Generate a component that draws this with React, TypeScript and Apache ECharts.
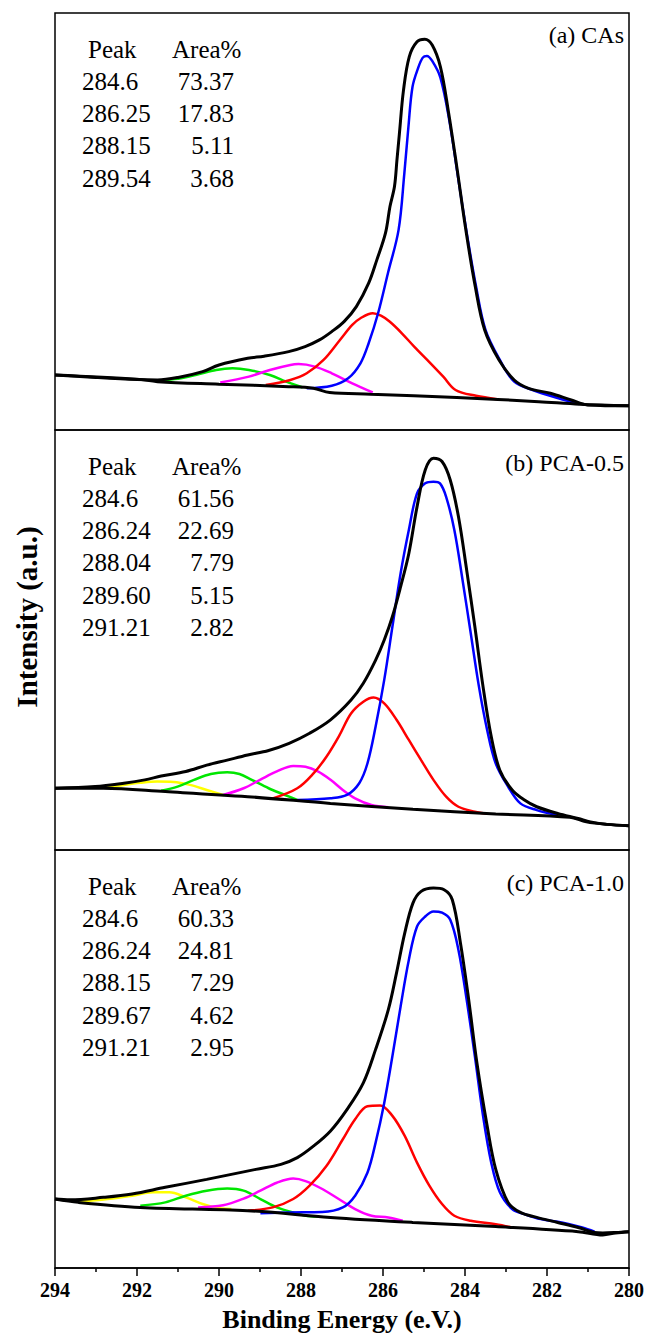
import React, { useEffect, useRef } from "react";
import * as echarts from "echarts";

// ---------- Data (Binding energy eV, intensity a.u. 0-100 per panel) ----------
const xMin = 280;
const xMax = 294;
const xInterval = 2;

// Panel (a) CAs
const aEnvelope = [[294.0,13.2],[293.0,12.6],[292.0,12.1],[291.5,12.0],[291.0,12.6],[290.4,14.0],[290.0,15.6],[289.3,17.2],[288.9,17.7],[288.3,18.8],[287.9,20.0],[287.55,21.6],[287.25,23.6],[286.95,26.0],[286.65,29.6],[286.35,35.2],[286.15,40.8],[285.94,47.2],[285.83,53.6],[285.72,58.4],[285.66,64.7],[285.6,71.1],[285.5,81.5],[285.36,89.5],[285.17,93.1],[284.98,93.7],[284.8,92.3],[284.6,87.1],[284.41,76.7],[284.2,63.1],[283.98,48.0],[283.75,34.4],[283.52,24.0],[283.17,16.8],[282.8,12.0],[282.45,10.0],[281.92,8.8],[281.41,7.2],[281.01,6.0],[280.0,5.8]];
const aBackground = [[294.0,13.2],[292.0,12.2],[291.5,11.6],[290.0,11.0],[288.3,10.4],[287.7,10.0],[287.3,9.0],[286.3,8.6],[284.2,7.8],[282.2,6.8],[281.2,6.2],[280.0,5.8]];
const aBlue = [[287.86,10.0],[287.25,10.6],[286.85,12.4],[286.55,16.0],[286.35,20.8],[286.12,28.0],[285.88,37.6],[285.62,48.0],[285.48,61.5],[285.38,72.7],[285.28,82.3],[285.14,86.9],[285.03,89.3],[284.93,89.7],[284.8,88.5],[284.6,84.5],[284.38,74.1],[284.17,60.6],[283.95,46.8],[283.73,34.4],[283.5,24.0],[283.15,16.8],[282.8,11.6],[282.35,9.6],[281.72,7.6],[281.21,6.2]];
const aRed = [[288.86,10.8],[288.26,12.0],[287.86,13.6],[287.45,16.8],[287.05,21.6],[286.75,25.2],[286.55,26.8],[286.25,28.0],[286.05,27.4],[285.84,26.0],[285.54,23.2],[285.24,20.0],[284.84,16.0],[284.53,12.8],[284.23,9.6],[283.73,8.2],[283.22,7.4]];
const aMagenta = [[289.97,11.4],[289.27,12.8],[288.76,14.4],[288.26,15.6],[288.06,15.8],[287.66,15.2],[287.25,13.6],[286.75,11.2],[286.25,9.0]];
const aGreen = [[291.58,11.8],[291.08,12.2],[290.57,13.2],[290.07,14.4],[289.67,14.8],[289.27,14.4],[288.76,13.2],[288.36,11.6],[287.96,10.2]];
const aPeaks = ["284.6", "286.25", "288.15", "289.54"];
const aAreas = ["73.37", "17.83", "5.11", "3.68"];

// Panel (b) PCA-0.5
const bEnvelope = [[294.0,14.7],[293.02,15.1],[292.32,15.9],[291.81,16.7],[291.41,17.6],[290.81,18.7],[290.30,20.2],[289.80,21.4],[289.30,22.6],[288.79,23.7],[288.29,25.4],[287.79,27.8],[287.28,31.0],[286.78,35.7],[286.48,39.7],[286.18,45.2],[285.97,50.0],[285.77,55.6],[285.57,62.7],[285.37,70.6],[285.17,81.7],[284.97,90.5],[284.77,93.3],[284.56,92.5],[284.36,88.1],[284.16,79.4],[283.96,66.7],[283.76,53.2],[283.56,38.9],[283.36,27.0],[283.15,19.0],[282.85,14.3],[282.55,11.9],[282.25,10.3],[281.74,8.7],[281.24,7.5],[280.94,6.7],[280.54,6.1],[280.0,5.8]];
const bBackground = [[294.0,14.7],[292.82,14.7],[291.31,13.9],[289.30,12.7],[287.28,11.1],[285.27,9.7],[283.25,8.6],[281.44,7.8],[281.04,6.7],[280.54,6.1],[280.0,5.8]];
const bBlue = [[288.09,11.9],[287.28,12.3],[286.88,13.1],[286.58,15.9],[286.38,20.6],[286.18,29.4],[285.97,40.5],[285.77,53.2],[285.57,65.9],[285.37,76.2],[285.17,84.9],[284.97,87.3],[284.77,87.7],[284.61,87.3],[284.46,84.1],[284.26,76.2],[284.06,64.3],[283.86,51.6],[283.66,38.9],[283.46,28.6],[283.25,20.6],[282.95,15.1],[282.65,11.1],[282.25,9.5],[281.74,8.3]];
const bRed = [[288.69,12.3],[288.09,14.7],[287.69,18.3],[287.38,22.2],[287.08,27.0],[286.78,32.5],[286.48,35.3],[286.23,36.3],[285.97,34.9],[285.67,31.0],[285.37,26.2],[285.07,21.4],[284.77,16.7],[284.46,12.7],[284.16,10.3],[283.76,9.1],[283.46,8.6]];
const bMagenta = [[289.90,13.1],[289.40,14.7],[289.00,16.7],[288.59,18.7],[288.19,20.0],[287.89,19.8],[287.59,18.7],[287.28,16.7],[286.98,14.3],[286.68,12.3],[286.28,10.7],[285.87,10.2]];
const bGreen = [[291.41,14.1],[291.01,15.1],[290.61,16.7],[290.20,18.1],[289.80,18.5],[289.50,18.1],[289.20,16.7],[288.79,14.7],[288.39,13.1],[288.09,11.9]];
const bYellow = [[292.77,14.8],[292.32,15.5],[291.92,16.0],[291.51,16.3],[291.11,16.2],[290.71,15.5],[290.30,14.3],[289.90,13.1]];
const bPeaks = ["284.6", "286.24", "288.04", "289.60", "291.21"];
const bAreas = ["61.56", "22.69", "7.79", "5.15", "2.82"];

// Panel (c) PCA-1.0
const cEnvelope = [[294.0,16.5],[293.63,16.3],[292.82,16.9],[292.12,17.7],[291.31,19.3],[290.30,21.2],[289.70,22.4],[289.10,23.6],[288.49,24.8],[288.09,26.4],[287.69,29.2],[287.28,32.8],[286.88,37.9],[286.48,44.3],[286.18,52.3],[285.87,61.8],[285.67,70.6],[285.47,80.1],[285.27,87.3],[285.07,90.1],[284.77,90.9],[284.51,90.5],[284.31,88.1],[284.11,77.7],[283.91,64.2],[283.71,49.1],[283.46,34.0],[283.25,23.6],[282.95,15.7],[282.65,13.3],[282.25,12.1],[281.74,10.9],[281.24,9.7],[280.84,8.5],[280.64,8.4],[280.33,8.5],[280.0,8.7]];
const cBackground = [[294.0,16.5],[293.43,15.7],[291.92,14.5],[289.30,13.7],[287.28,12.1],[285.27,10.9],[283.25,9.9],[281.24,8.7],[280.64,7.9],[280.33,8.4],[280.0,8.7]];
const cBlue = [[288.99,13.1],[288.29,13.3],[287.48,13.4],[286.98,14.5],[286.68,17.3],[286.38,22.8],[286.18,30.0],[285.97,39.5],[285.77,50.7],[285.57,62.6],[285.37,73.7],[285.17,81.7],[284.97,84.1],[284.77,85.3],[284.56,85.0],[284.36,83.3],[284.16,76.1],[283.96,64.2],[283.76,50.7],[283.56,36.4],[283.36,25.2],[283.15,18.1],[282.85,14.1],[282.55,12.9],[282.15,11.7],[281.64,10.9],[281.14,9.7],[280.84,8.7]];
const cRed = [[289.30,13.7],[288.69,14.5],[288.19,16.5],[287.79,19.7],[287.38,24.4],[286.98,30.8],[286.68,35.6],[286.38,38.7],[286.07,38.9],[285.77,36.4],[285.47,31.6],[285.17,25.2],[284.87,19.7],[284.56,15.3],[284.26,12.5],[283.86,11.3],[283.25,10.5],[282.85,9.7]];
const cMagenta = [[290.51,14.5],[289.90,15.0],[289.40,16.6],[288.99,18.5],[288.59,20.4],[288.19,21.4],[287.89,20.8],[287.48,18.9],[287.08,16.5],[286.68,14.1],[286.28,12.5],[285.87,12.1],[285.52,11.3]];
const cGreen = [[291.92,14.9],[291.31,15.7],[290.81,17.3],[290.30,18.5],[289.80,19.0],[289.40,18.5],[288.99,16.5],[288.59,14.5],[288.19,13.3],[287.89,12.5],[287.59,12.3]];
const cYellow = [[293.43,15.8],[292.72,16.5],[292.12,17.3],[291.61,18.1],[291.21,18.1],[290.81,16.9],[290.40,15.3],[290.10,14.5],[289.70,14.1]];
const cPeaks = ["284.6", "286.24", "288.15", "289.67", "291.21"];
const cAreas = ["60.33", "24.81", "7.29", "4.62", "2.95"];

const panelTitles = ["(a) CAs", "(b) PCA-0.5", "(c) PCA-1.0"];
const xTitle = "Binding Energy (e.V.)";
const yTitle = "Intensity (a.u.)";

// ---------- Layout ----------
const LEFT = 55;
const WIDTH = 574;
const panels = [
  { top: 13, height: 417, headerY: 49, labelY: 35 },
  { top: 430, height: 420, headerY: 466, labelY: 463 },
  { top: 850, height: 419, headerY: 886, labelY: 883 },
];
const SERIF = "'Liberation Serif', 'Times New Roman', serif";
const COLORS = {
  black: "#000000",
  blue: "#0000ff",
  red: "#ff0000",
  magenta: "#ff00ff",
  green: "#00e600",
  yellow: "#ffff00",
};

function lineSeries(data: number[][], idx: number, color: string, width: number, z: number) {
  return {
    type: "line",
    xAxisIndex: idx,
    yAxisIndex: idx,
    data,
    symbol: "none",
    smooth: 0.35,
    lineStyle: { color, width },
    z,
    silent: true,
  };
}

export default function App() {
  const ref = useRef<HTMLDivElement>(null);
  useEffect(() => {
    if (!ref.current) return;
    const chart = echarts.init(ref.current, undefined, { renderer: "svg" });

    const panelData = [
      { env: aEnvelope, bg: aBackground, comps: [[aGreen, COLORS.green], [aMagenta, COLORS.magenta], [aRed, COLORS.red], [aBlue, COLORS.blue]], peaks: aPeaks, areas: aAreas },
      { env: bEnvelope, bg: bBackground, comps: [[bYellow, COLORS.yellow], [bGreen, COLORS.green], [bMagenta, COLORS.magenta], [bRed, COLORS.red], [bBlue, COLORS.blue]], peaks: bPeaks, areas: bAreas },
      { env: cEnvelope, bg: cBackground, comps: [[cYellow, COLORS.yellow], [cGreen, COLORS.green], [cMagenta, COLORS.magenta], [cRed, COLORS.red], [cBlue, COLORS.blue]], peaks: cPeaks, areas: cAreas },
    ];

    const grids = panels.map((p) => ({
      left: LEFT,
      top: p.top,
      width: WIDTH,
      height: p.height,
      show: true,
      borderColor: "#000",
      borderWidth: 1.5,
      backgroundColor: "transparent",
    }));

    const xAxes = panels.map((p, i) => {
      const isBottom = i === panels.length - 1;
      return {
        type: "value",
        gridIndex: i,
        min: xMin,
        max: xMax,
        interval: xInterval,
        inverse: true,
        axisLine: { show: isBottom, lineStyle: { color: "#000", width: 1.5 } },
        axisTick: { show: isBottom, length: 8, inside: false, lineStyle: { color: "#000", width: 1.5 } },
        minorTick: { show: isBottom, splitNumber: 2, length: 4, lineStyle: { color: "#000", width: 1.5 } },
        splitLine: { show: false },
        axisLabel: {
          show: isBottom,
          margin: 12,
          color: "#000",
          fontFamily: SERIF,
          fontWeight: "bold",
          fontSize: 20,
        },
        name: isBottom ? xTitle : "",
        nameLocation: "middle",
        nameGap: 38,
        nameTextStyle: { color: "#000", fontFamily: SERIF, fontWeight: "bold", fontSize: 26 },
      };
    });

    const yAxes = panels.map((p, i) => ({
      type: "value",
      gridIndex: i,
      min: 0,
      max: 100,
      show: false,
      splitLine: { show: false },
    }));

    const series: any[] = [];
    panelData.forEach((pd, i) => {
      pd.comps.forEach(([d, c], k) => series.push(lineSeries(d as number[][], i, c as string, 2.5, 2 + k)));
      series.push(lineSeries(pd.bg, i, COLORS.black, 3, 10));
      series.push(lineSeries(pd.env, i, COLORS.black, 3, 11));
    });

    const graphics: any[] = [];
    const textStyle = (text: string, align: string, size: number, weight = "normal") => ({
      text,
      fill: "#000",
      fontFamily: SERIF,
      fontSize: size,
      fontWeight: weight,
      align,
      verticalAlign: "middle",
    });
    panels.forEach((p, i) => {
      const pd = panelData[i];
      const rowGap = 32.3;
      graphics.push({ type: "text", x: 88, y: p.headerY, style: textStyle("Peak", "left", 25) });
      graphics.push({ type: "text", x: 172, y: p.headerY, style: textStyle("Area%", "left", 25) });
      pd.peaks.forEach((pk, r) => {
        const y = p.headerY + rowGap * (r + 1);
        graphics.push({ type: "text", x: 82, y, style: textStyle(pk, "left", 25) });
        graphics.push({ type: "text", x: 234, y, style: textStyle(pd.areas[r], "right", 25) });
      });
      graphics.push({ type: "text", x: 624, y: p.labelY, style: textStyle(panelTitles[i], "right", 24) });
    });
    graphics.push({
      type: "text",
      x: 27,
      y: 617,
      rotation: Math.PI / 2,
      style: textStyle(yTitle, "center", 29, "bold"),
    });

    chart.setOption({
      animation: false,
      backgroundColor: "#fff",
      grid: grids,
      xAxis: xAxes,
      yAxis: yAxes,
      series,
      graphic: graphics,
    });
    return () => chart.dispose();
  }, []);

  return <div ref={ref} style={{ position: "fixed", left: 0, top: 0, width: 648, height: 1333 }} />;
}
